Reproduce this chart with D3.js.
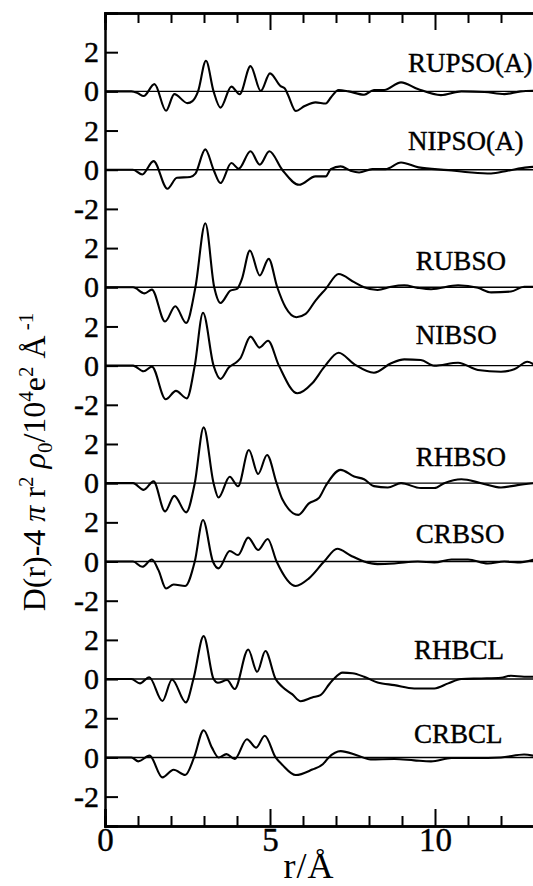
<!DOCTYPE html>
<html>
<head>
<meta charset="utf-8">
<script src="https://cdn.jsdelivr.net/npm/d3@7"></script>
<style>
  html, body { margin: 0; padding: 0; background: #fff; }
  svg text { font-family: "Liberation Serif", "Times New Roman", Times, serif; }
</style>
</head>
<body>
<svg id="chart"></svg>
<script>
// curve names, top to bottom
const seriesNames = ["RUPSO(A)", "NIPSO(A)", "RUBSO", "NIBSO", "RHBSO", "CRBSO", "RHBCL", "CRBCL"];
// vertical offset of each curve's zero line (in D units)
const seriesOffsets = [34, 30, 24, 20, 14, 10, 4, 0];

// [r (Å), D]
const rupsoA = [[0,0],[0.8,0],[1.0,-0.1],[1.17,-0.24],[1.5,0.37],[1.85,-0.99],[2.1,-0.14],[2.5,-0.6],[2.65,-0.5],[2.82,0],[3.06,1.56],[3.29,0],[3.5,-0.83],[3.83,0.24],[4.08,-0.15],[4.41,1.29],[4.72,0.02],[5.0,0.92],[5.32,0.27],[5.45,0.15],[5.55,-0.2],[5.78,-1.0],[6.05,-0.75],[6.38,-0.56],[6.69,-0.62],[6.85,-0.3],[7.08,0.07],[7.38,0],[7.85,-0.17],[8.15,0.07],[8.46,0.07],[8.97,0.46],[9.48,0.12],[10.18,-0.19],[10.8,0],[11.5,-0.03],[12.1,-0.14],[12.6,0],[13,0.03]];
const nipsoA = [[0,0],[0.85,0],[1.13,-0.24],[1.47,0.44],[1.89,-0.97],[2.18,-0.41],[2.58,-0.37],[2.74,-0.2],[3.04,1.04],[3.29,0],[3.5,-0.68],[3.83,0.34],[4.05,0.05],[4.41,0.94],[4.69,0.26],[4.98,0.94],[5.37,0],[5.88,-0.77],[6.38,-0.34],[6.69,-0.34],[6.84,0.03],[7.14,0.17],[7.44,-0.05],[7.7,-0.14],[8.1,0.03],[8.5,0.03],[8.97,0.37],[9.5,0.12],[10.4,-0.02],[11.1,-0.14],[11.7,-0.19],[12.2,-0.05],[12.8,0.12],[13,0.15]];
const rubso = [[0,0],[0.85,0],[1.2,-0.31],[1.42,-0.12],[1.82,-1.75],[2.13,-0.97],[2.46,-1.82],[2.74,0],[3.04,3.27],[3.31,0],[3.5,-0.8],[3.8,-0.17],[4.0,-0.08],[4.15,0.43],[4.39,1.87],[4.69,0.6],[4.96,1.45],[5.22,0],[5.47,-1.02],[5.8,-1.53],[6.08,-1.36],[6.38,-0.68],[6.69,-0.08],[7.08,0.68],[7.55,0.26],[7.85,0],[8.26,-0.14],[8.67,0.03],[9.07,0.1],[9.48,-0.03],[9.88,-0.1],[10.7,0.1],[11.3,-0.03],[11.7,-0.26],[12.3,-0.22],[12.7,0.03],[13,0.03]];
const nibso = [[0,0],[0.85,0],[1.17,-0.29],[1.42,-0.05],[1.84,-1.72],[2.15,-1.29],[2.48,-1.67],[2.72,0],[2.97,2.7],[3.29,0],[3.5,-0.68],[3.75,-0.1],[4.0,0.2],[4.1,0.37],[4.41,1.48],[4.68,0.92],[4.94,1.27],[5.27,0],[5.83,-1.41],[6.28,-0.9],[6.64,-0.08],[7.08,0.66],[7.55,0.08],[8.15,-0.36],[8.67,0.12],[9.07,0.32],[9.57,0.29],[9.98,0],[10.7,0.15],[11.3,-0.22],[12.0,-0.31],[12.4,-0.19],[12.8,0.2],[13,0.05]];
const rhbso = [[0,0],[0.85,0],[1.17,-0.34],[1.47,0.09],[1.82,-1.44],[2.1,-0.65],[2.46,-1.49],[2.72,0],[2.99,2.85],[3.29,0],[3.44,-0.73],[3.78,0.33],[4.03,-0.16],[4.36,1.69],[4.64,0.47],[4.91,1.44],[5.2,0],[5.37,-0.81],[5.86,-1.62],[6.18,-1.03],[6.48,-0.76],[6.69,-0.13],[7.14,0.68],[7.55,0.34],[7.85,0.2],[8.15,-0.15],[8.57,-0.22],[8.97,0],[9.57,-0.25],[9.98,-0.25],[10.28,0],[10.8,0.2],[11.4,0],[12.0,-0.22],[12.5,-0.1],[13,0]];
const crbso = [[0,0],[0.85,0],[1.13,-0.27],[1.42,0.1],[1.62,-0.44],[1.85,-1.38],[2.08,-1.17],[2.43,-1.25],[2.72,0],[2.97,2.12],[3.27,0],[3.44,-0.35],[3.78,0.54],[4.03,0.33],[4.34,1.22],[4.64,0.59],[4.93,1.15],[5.2,0],[5.78,-1.25],[6.18,-0.86],[6.64,0],[7.04,0.65],[7.44,0.31],[7.85,0],[8.26,-0.13],[8.77,-0.1],[9.48,0],[9.98,-0.05],[10.5,0.1],[11.0,0.1],[11.6,-0.1],[12.1,0],[12.5,-0.05],[13,0.1]];
const rhbcl = [[0,0],[0.8,0],[1.06,-0.22],[1.34,0.09],[1.74,-1.12],[2.03,-0.02],[2.45,-1.19],[2.68,0],[2.99,2.19],[3.29,0],[3.42,-0.19],[3.7,-0.05],[3.93,-0.51],[4.34,1.51],[4.61,0.37],[4.86,1.43],[5.17,0],[5.37,-0.39],[5.67,-0.77],[5.93,-1.13],[6.28,-0.94],[6.53,-0.82],[6.8,-0.25],[6.93,0],[7.2,0.33],[7.5,0.3],[7.85,0.12],[8.26,-0.17],[8.77,-0.31],[9.37,-0.48],[9.98,-0.48],[10.4,-0.22],[10.8,0],[11.4,0.03],[12.0,0.07],[12.3,0.17],[12.7,0.12],[13,0.12]];
const crbcl = [[0,0],[0.8,0],[1.01,-0.2],[1.35,0.09],[1.74,-1.02],[2.08,-0.63],[2.43,-0.9],[2.7,0],[2.99,1.39],[3.24,0.5],[3.44,0],[3.68,0.17],[3.93,-0.08],[4.3,0.93],[4.58,0.5],[4.84,1.11],[5.17,0],[5.37,-0.37],[5.78,-0.9],[6.28,-0.62],[6.6,-0.35],[6.78,0],[7.14,0.32],[7.65,0.1],[8.05,-0.1],[8.77,-0.08],[9.37,-0.15],[9.88,-0.2],[10.5,-0.03],[11.2,-0.03],[12.0,0],[12.7,0.15],[13,0.08]];
const seriesData = [rupsoA, nipsoA, rubso, nibso, rhbso, crbso, rhbcl, crbcl];

// tick labels for one pair of curves (top curve: 2, 0; bottom curve: 2, 0, -2)
const pairTickLabels = ["2", "0", "2", "0", "-2"];
const xMajorTicks = [0, 5, 10];
const xMinorTicks = [1, 2, 3, 4, 6, 7, 8, 9, 11, 12];

const serif = "'Liberation Serif', 'Times New Roman', Times, serif";
const width = 533, height = 886;
const margin = { top: 13, left: 105, bottom: 60 };

const svg = d3.select("#chart")
  .attr("width", width)
  .attr("height", height)
  .attr("font-family", serif);

svg.append("rect").attr("width", width).attr("height", height).attr("fill", "#fff");

const x = d3.scaleLinear().domain([0, 13]).range([margin.left, 534]);
const y = d3.scaleLinear().domain([-3.5, 38]).range([height - margin.bottom, margin.top]);

// y ticks: every 2 units across each pair of curves
const yTicks = [];
const yLabels = new Map();
[34, 24, 14, 4].forEach(top => {
  pairTickLabels.forEach((lab, i) => {
    const v = top + 2 - 2 * i;
    yTicks.push(v);
    yLabels.set(v, lab);
  });
});

// zero lines
svg.append("g")
  .selectAll("line")
  .data(seriesOffsets)
  .join("line")
  .attr("x1", x(0)).attr("x2", x(13))
  .attr("y1", d => y(d)).attr("y2", d => y(d))
  .attr("stroke", "#000")
  .attr("stroke-width", 1.4);

// curves
const line = d3.line()
  .x(d => x(d[0]))
  .y(d => y(d[1]))
  .curve(d3.curveMonotoneX);

svg.append("g")
  .selectAll("path")
  .data(seriesData)
  .join("path")
  .attr("d", (d, i) => line(d.map(p => [p[0], p[1] + seriesOffsets[i]])))
  .attr("fill", "none")
  .attr("stroke", "#000")
  .attr("stroke-width", 2.1)
  .attr("stroke-linejoin", "round");

// curve labels
const labelPos = [[9.18, 1.0], [9.18, 1.0], [9.42, 0.9], [9.42, 1.1], [9.42, 0.9], [9.42, 0.95], [9.36, 1.0], [9.36, 0.75]];
svg.append("g")
  .selectAll("text")
  .data(seriesNames)
  .join("text")
  .attr("x", (d, i) => x(labelPos[i][0]))
  .attr("y", (d, i) => y(seriesOffsets[i] + labelPos[i][1]))
  .attr("font-family", serif)
  .attr("font-size", "27px")
  .attr("fill", "#000")
  .attr("stroke", "#000")
  .attr("stroke-width", 0.4)
  .text(d => d);

// axes
const yAxis = svg.append("g")
  .attr("transform", `translate(${x(0)},0)`)
  .call(d3.axisLeft(y)
    .tickValues(yTicks)
    .tickSize(-13)
    .tickPadding(6)
    .tickFormat(d => yLabels.get(d)));

const xBottom = svg.append("g")
  .attr("transform", `translate(0,${y(-3.5)})`)
  .call(d3.axisBottom(x).tickValues(xMajorTicks).tickSize(-17).tickPadding(2).tickFormat(d3.format("d")));
svg.append("g")
  .attr("transform", `translate(0,${y(-3.5)})`)
  .call(d3.axisBottom(x).tickValues(xMinorTicks).tickSize(-10).tickFormat(""));
svg.append("g")
  .attr("transform", `translate(0,${y(38)})`)
  .call(d3.axisTop(x).tickValues(xMajorTicks.filter(d => d > 0)).tickSize(-17).tickFormat(""));
svg.append("g")
  .attr("transform", `translate(0,${y(38)})`)
  .call(d3.axisTop(x).tickValues(xMinorTicks).tickSize(-10).tickFormat(""));

svg.selectAll(".domain")
  .attr("stroke", "#000")
  .attr("stroke-width", 2.5);
svg.selectAll(".tick line")
  .attr("stroke", "#000")
  .attr("stroke-width", 2);
svg.selectAll("g").attr("font-family", serif);
svg.selectAll(".tick text")
  .attr("fill", "#000")
  .attr("stroke", "#000")
  .attr("stroke-width", 0.4)
  .attr("font-family", serif);
yAxis.selectAll(".tick text").attr("font-size", "30px");
xBottom.selectAll(".tick text").attr("font-size", "33px");

// axis titles
svg.append("text")
  .attr("x", 309)
  .attr("y", 878)
  .attr("text-anchor", "middle")
  .attr("font-family", serif)
  .attr("font-size", "36px")
  .attr("letter-spacing", "1px")
  .attr("fill", "#000")
  .text("r/Å");

const yTitle = svg.append("text")
  .attr("transform", "translate(45,462) rotate(-90)")
  .attr("text-anchor", "middle")
  .attr("font-family", serif)
  .attr("font-size", "32px")
  .attr("fill", "#000");

const parts = [
  { t: "D(r)-4" },
  { t: " π", it: true },
  { t: " r" },
  { t: "2", sup: true },
  { t: " ρ", it: true },
  { t: "0", sub: true },
  { t: "/10" },
  { t: "4", sup: true },
  { t: "e" },
  { t: "2", sup: true },
  { t: " Å" },
  { t: " -1", sup: true }
];
let shift = 0;
parts.forEach(p => {
  const target = p.sup ? -12 : p.sub ? 7 : 0;
  yTitle.append("tspan")
    .attr("dy", target - shift)
    .attr("font-size", p.sup || p.sub ? "21px" : null)
    .attr("font-style", p.it ? "italic" : null)
    .text(p.t);
  shift = target;
});
</script>
</body>
</html>
